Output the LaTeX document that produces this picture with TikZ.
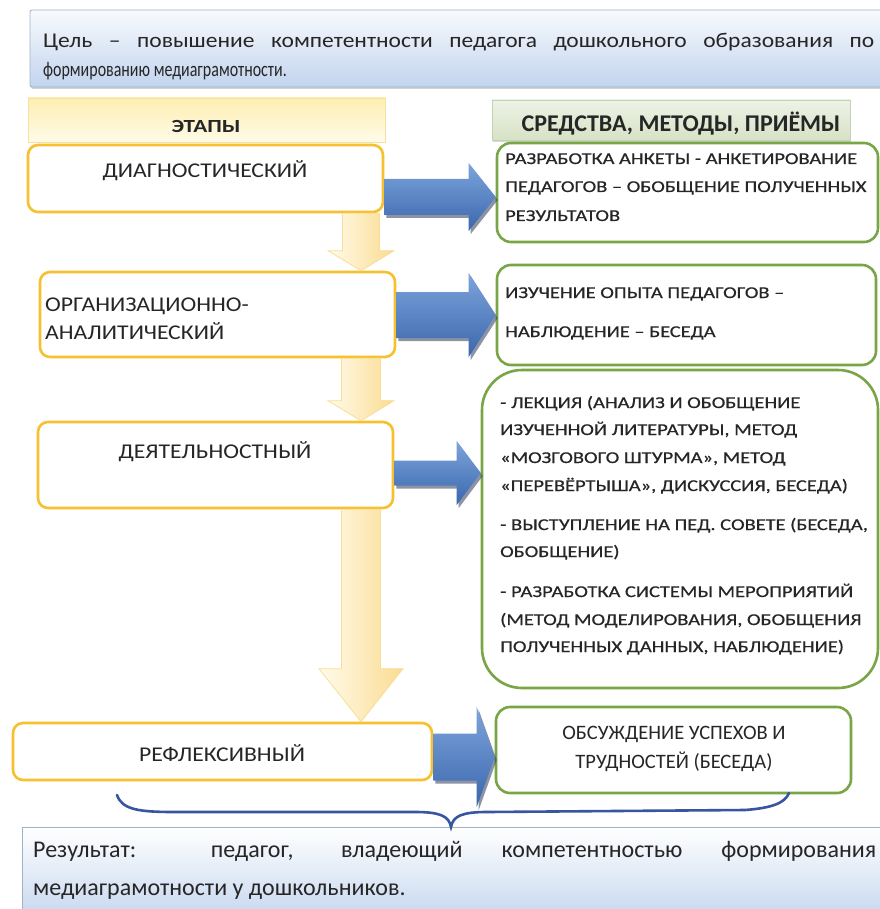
\documentclass[tikz,border=0pt]{standalone}
\usepackage{fontspec}
\setmainfont{Carlito}
\newfontfamily\fGoal[FakeStretch=0.76]{Carlito}
\newfontfamily\fGoalA[FakeStretch=1.12]{Carlito}
\newfontfamily\fStage[FakeStretch=1.13]{Carlito}
\newfontfamily\fGreen[FakeStretch=1.24,FakeBold=0.6]{Carlito}
\newfontfamily\fEtap[FakeStretch=1.25]{Carlito}
\usetikzlibrary{calc,shadows}
\definecolor{ink}{RGB}{38,38,38}
\definecolor{yelB}{RGB}{246,192,46}
\definecolor{grnB}{RGB}{120,165,70}
\definecolor{bluT}{RGB}{125,165,220}
\definecolor{bluD}{RGB}{58,102,172}
\definecolor{bluS}{RGB}{45,60,90}
\definecolor{yL}{RGB}{255,251,236}
\definecolor{yR}{RGB}{251,220,145}
\definecolor{yEdge}{RGB}{248,222,150}
\definecolor{goalT}{RGB}{248,250,253}
\definecolor{goalD}{RGB}{194,212,238}
\definecolor{goalE}{RGB}{160,178,202}
\definecolor{hET}{RGB}{253,238,178}
\definecolor{hED}{RGB}{255,251,232}
\definecolor{hEE}{RGB}{245,226,160}
\definecolor{hST}{RGB}{238,243,230}
\definecolor{hSD}{RGB}{214,226,198}
\definecolor{hSE}{RGB}{196,210,180}
\definecolor{braceC}{RGB}{55,85,160}
\newcommand\barrow[5]{%
 \fill[bluS,opacity=0.55] ($(#1)+(2,-#3+3)$) -- ($(#2)+(-#5+2,-#3+3)$) -- ($(#2)+(-#5+2,-#4+3)$) -- ($(#2)+(2,3)$) -- ($(#2)+(-#5+2,#4+3)$) -- ($(#2)+(-#5+2,#3+3)$) -- ($(#1)+(2,#3+3)$) -- cycle;
 \shade[top color=bluT,bottom color=bluD] ($(#1)+(0,-#3)$) -- ($(#2)+(-#5,-#3)$) -- ($(#2)+(-#5,-#4)$) -- (#2) -- ($(#2)+(-#5,#4)$) -- ($(#2)+(-#5,#3)$) -- ($(#1)+(0,#3)$) -- cycle;}
\newcommand\yarrow[5]{%
 \shade[left color=yL,right color=yR,draw=yEdge,line width=0.8pt] ($(#1)+(-#3,0)$) -- ($(#2)+(-#3,-#5)$) -- ($(#2)+(-#4,-#5)$) -- (#2) -- ($(#2)+(#4,-#5)$) -- ($(#2)+(#3,-#5)$) -- ($(#1)+(#3,0)$) -- cycle;}
\begin{document}
\begin{tikzpicture}[x=1pt,y=-1pt,
  stagebox/.style={draw=yelB,line width=2.6pt,rounded corners=10pt,fill=white,inner sep=0pt},
  greenbox/.style={draw=grnB,line width=2.6pt,rounded corners=14pt,fill=white,inner sep=0pt},
  goalbox/.style={draw=goalE,line width=0.8pt,rounded corners=2pt,top color=goalT,bottom color=goalD,inner sep=0pt,
     drop shadow={shadow xshift=1pt,shadow yshift=-2pt,opacity=0.35}},
  resbox/.style={draw=goalE,line width=0.8pt,top color=white,bottom color=goalD,inner sep=0pt},
  hdrE/.style={draw=hEE,line width=0.8pt,top color=hET,bottom color=hED,inner sep=0pt},
  hdrS/.style={draw=hSE,line width=0.8pt,top color=hST,bottom color=hSD,inner sep=0pt,
     drop shadow={shadow xshift=1pt,shadow yshift=-2pt,opacity=0.3}},
  txt/.style={inner sep=0pt,anchor=base west,text=ink},
  ctxt/.style={inner sep=0pt,anchor=base,text=ink},
  goalfont/.style={font=\fGoal\fontsize{21}{25}\selectfont},
  goalfontA/.style={font=\fGoalA\fontsize{21}{25}\selectfont},
  resfont/.style={font=\fontsize{24}{28}\selectfont},
  stagefont/.style={font=\fStage\fontsize{21}{25}\selectfont},
  greenfont/.style={font=\fGreen\fontsize{16.5}{20}\selectfont},
  brace/.style={draw=braceC,line width=2.6pt,line cap=round}]
\useasboundingbox (0,0) rectangle (879,909);
\fill[white] (0,0) rectangle (879,909);

% goal box
\node[goalbox,minimum width=865pt,minimum height=77pt] (goal) at (462.5,48.5) {};
\node[txt,goalfontA] (goalA) at (43,48) {\makebox[831pt][s]{Цель – повышение компетентности педагога дошкольного образования по}};
\node[txt,goalfont] (goalB) at (43,77) {формированию медиаграмотности.};

% headers
\node[hdrE,minimum width=357pt,minimum height=44pt] (hE) at (206.5,120) {};
\node[ctxt,font=\fEtap\bfseries\fontsize{18.5}{20}\selectfont] (hEt) at (206,133) {ЭТАПЫ};
\node[hdrS,minimum width=358pt,minimum height=40pt] (hS) at (671,120) {};
\node[ctxt,font=\bfseries\fontsize{24}{26}\selectfont] (hSt) at (681,132) {СРЕДСТВА, МЕТОДЫ, ПРИЁМЫ};

% stage boxes
\node[stagebox,minimum width=355pt,minimum height=67pt] (diag) at (205.5,178.5) {};
\node[stagebox,minimum width=355pt,minimum height=85pt] (org) at (217.5,314.5) {};
\node[stagebox,minimum width=355pt,minimum height=86pt] (deyat) at (215.5,465) {};
\node[stagebox,minimum width=419pt,minimum height=57pt] (refl) at (222.5,751.5) {};
\node[ctxt,stagefont] (diagT) at (205,178) {ДИАГНОСТИЧЕСКИЙ};
\node[txt,stagefont] (orgT1) at (45,311) {ОРГАНИЗАЦИОННО-};
\node[txt,stagefont] (orgT2) at (45,339) {АНАЛИТИЧЕСКИЙ};
\node[ctxt,stagefont] (deyatT) at (215,458) {ДЕЯТЕЛЬНОСТНЫЙ};
\node[ctxt,stagefont] (reflT) at (222,761) {РЕФЛЕКСИВНЫЙ};

% green boxes
\node[greenbox,minimum width=381pt,minimum height=99pt] (g1) at (687.5,192.5) {};
\node[greenbox,minimum width=379pt,minimum height=100pt] (g2) at (686.5,315) {};
\node[greenbox,rounded corners=40pt,minimum width=396pt,minimum height=318pt] (g3) at (680,529) {};
\node[greenbox,minimum width=355pt,minimum height=86pt] (g4) at (673.5,750) {};

\node[txt,greenfont] (g1a) at (505,164) {РАЗРАБОТКА АНКЕТЫ - АНКЕТИРОВАНИЕ};
\node[txt,greenfont] (g1b) at (505,192) {ПЕДАГОГОВ – ОБОБЩЕНИЕ ПОЛУЧЕННЫХ};
\node[txt,greenfont] (g1c) at (505,221) {РЕЗУЛЬТАТОВ};
\node[txt,greenfont] (g2a) at (505,298) {ИЗУЧЕНИЕ ОПЫТА ПЕДАГОГОВ –};
\node[txt,greenfont] (g2b) at (505,337) {НАБЛЮДЕНИЕ – БЕСЕДА};
\node[txt,greenfont] (g3a) at (500,408) {- ЛЕКЦИЯ (АНАЛИЗ И ОБОБЩЕНИЕ};
\node[txt,greenfont] (g3b) at (500,435) {ИЗУЧЕННОЙ ЛИТЕРАТУРЫ, МЕТОД};
\node[txt,greenfont] (g3c) at (500,463) {«МОЗГОВОГО ШТУРМА», МЕТОД};
\node[txt,greenfont] (g3d) at (500,491) {«ПЕРЕВЁРТЫША», ДИСКУССИЯ, БЕСЕДА)};
\node[txt,greenfont] (g3e) at (500,530) {- ВЫСТУПЛЕНИЕ НА ПЕД. СОВЕТЕ (БЕСЕДА,};
\node[txt,greenfont] (g3f) at (500,557) {ОБОБЩЕНИЕ)};
\node[txt,greenfont] (g3g) at (500,597) {- РАЗРАБОТКА СИСТЕМЫ МЕРОПРИЯТИЙ};
\node[txt,greenfont] (g3h) at (500,625) {(МЕТОД МОДЕЛИРОВАНИЯ, ОБОБЩЕНИЯ};
\node[txt,greenfont] (g3i) at (500,652) {ПОЛУЧЕННЫХ ДАННЫХ, НАБЛЮДЕНИЕ)};
\node[ctxt,font=\fontsize{20.5}{24}\selectfont] (g4a) at (674,739) {ОБСУЖДЕНИЕ УСПЕХОВ И};
\node[ctxt,font=\fontsize{20.5}{24}\selectfont] (g4b) at (674,768) {ТРУДНОСТЕЙ (БЕСЕДА)};

% yellow down arrows
\coordinate (y1s) at (361,0 |- diag.south);
\coordinate (y1t) at (361,0 |- org.north);
\coordinate (y2s) at (361,0 |- org.south);
\coordinate (y2t) at (361,0 |- deyat.north);
\coordinate (y3s) at (361,0 |- deyat.south);
\coordinate (y3t) at (361,0 |- refl.north);
\yarrow{y1s}{y1t}{18.5}{33}{20}
\yarrow{y2s}{y2t}{19.5}{33}{20}
\yarrow{y3s}{y3t}{19.5}{42}{53}

% blue arrows
\coordinate (b1s) at (diag.east |- 0,197);
\coordinate (b1t) at (g1.west |- 0,197);
\coordinate (b2s) at (org.east |- 0,315);
\coordinate (b2t) at (g2.west |- 0,315);
\coordinate (b3s) at (deyat.east |- 0,473);
\coordinate (b3t) at (g3.west |- 0,473);
\coordinate (b4s) at (refl.east |- 0,757);
\coordinate (b4t) at (g4.west |- 0,757);
\barrow{b1s}{b1t}{18}{34}{27}
\barrow{b2s}{b2t}{23}{42}{27}
\barrow{b3s}{b3t}{12.5}{32}{24}
\barrow{b4s}{b4t}{23.5}{50}{18}

% result box
\node[resbox,minimum width=873pt,minimum height=98pt] (res) at (458.5,876) {};
\node[txt,resfont] (resA) at (33,857) {\makebox[843pt][s]{Результат: педагог, владеющий компетентностью формирования}};
\node[txt,resfont] (resB) at (33,895) {медиаграмотности у дошкольников.};

% brace
\draw[brace] (117,795) .. controls (122,810) and (140,812) .. (175,812) -- (415,812)
  .. controls (440,812) and (449,816) .. (451,827)
  .. controls (453,816) and (462,812) .. (487,812) -- (745,810)
  .. controls (772,808) and (785,803) .. (789,793);
\end{tikzpicture}
\end{document}
